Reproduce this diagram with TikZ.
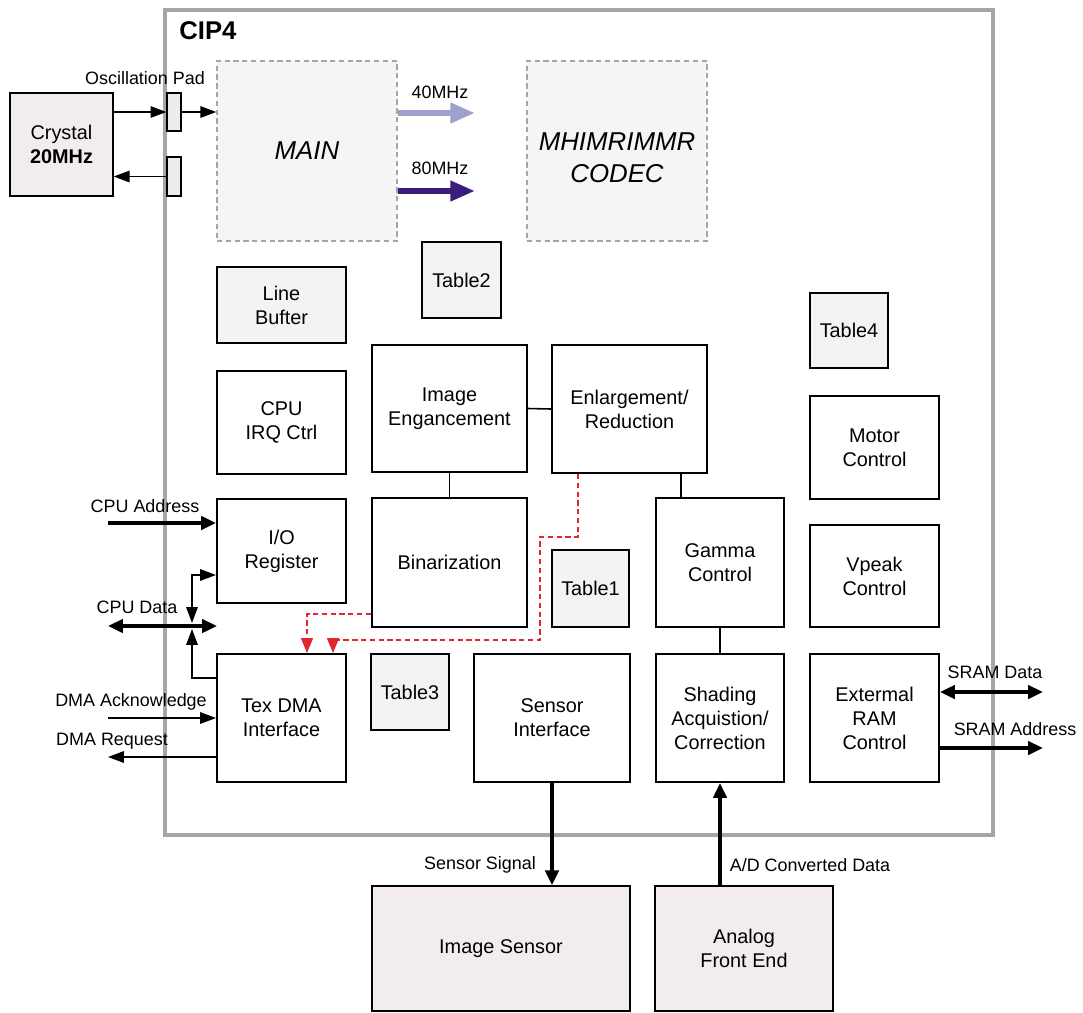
\documentclass[tikz,border=0pt]{standalone}
\usepackage{fontspec}
\setmainfont{Liberation Sans}
\usetikzlibrary{arrows.meta}
\definecolor{framegray}{RGB}{166,166,166}
\definecolor{pinkfill}{RGB}{243,236,238}
\definecolor{tblfill}{RGB}{243,243,245}
\definecolor{dashfill}{RGB}{245,245,245}
\definecolor{dashgray}{RGB}{165,165,165}
\definecolor{padfill}{RGB}{236,236,236}
\definecolor{lav}{RGB}{160,160,204}
\definecolor{deeppurple}{RGB}{59,28,126}
\definecolor{sigred}{RGB}{226,40,46}
\begin{document}
\begin{tikzpicture}[x=0.02cm,y=-0.02cm,
  span/.style n args={4}{at={({(#1+#3)/2},{(#2+#4)/2})},minimum width={(#3-#1)*0.02cm},minimum height={(#4-#2)*0.02cm}},
  blk/.style={draw=black,line width=1.1pt,fill=white,inner sep=0pt,align=center,font=\fontsize{11.3}{13.6}\selectfont},
  tbl/.style={blk,fill=tblfill},
  ext/.style={blk,line width=0.8pt,fill=pinkfill},
  dbox/.style={draw=dashgray,dash pattern=on 3pt off 2pt,line width=0.8pt,fill=dashfill,inner sep=0pt,align=center,font=\fontsize{14.7}{18}\selectfont\itshape},
  ital/.style={inner sep=0pt,align=center,font=\fontsize{14.7}{18}\selectfont\itshape},
  pad/.style={draw=black,line width=0.7pt,fill=padfill,inner sep=0pt},
  lbl/.style={inner sep=0pt,font=\fontsize{10.2}{12}\selectfont},
  conn/.style={line width=0.9pt},
  thinar/.style={line width=0.85pt,-{Triangle[length=9pt,width=6.5pt]}},
  thinboth/.style={line width=0.85pt,{Triangle[length=9pt,width=6.5pt]}-{Triangle[length=9pt,width=6.5pt]}},
  thickar/.style={line width=2.6pt,-{Triangle[length=8.5pt,width=7.5pt]}},
  thickboth/.style={line width=2.6pt,{Triangle[length=8.5pt,width=7.5pt]}-{Triangle[length=8.5pt,width=7.5pt]}},
  freq/.style={line width=3.4pt,-{Triangle[length=14pt,width=11pt]}},
  redar/.style={draw=sigred,line width=0.9pt,dash pattern=on 3pt off 2pt,-{Triangle[length=8.5pt,width=6.8pt]}}
]
\useasboundingbox (0,0) rectangle (1083,1012);

% chip frame
\node[draw=framegray,line width=2.6pt,inner sep=0pt,span={165}{10}{993}{835}] (cip) {};
\node[anchor=west,inner sep=0pt,font=\bfseries\fontsize{14.6}{16}\selectfont] (ciplbl) at (179,31) {CIP4};

% crystal and pads
\node[ext,span={10}{93}{113}{196}] (crystal) {Crystal\\\textbf{20MHz}};
\node[pad,span={167}{93}{181}{131}] (pad1) {};
\node[pad,span={167}{157}{181}{196}] (pad2) {};
\node[lbl] (padlbl) at (145,78) {Oscillation Pad};

% dashed blocks
\node[dbox,span={217}{61}{397}{241}] (main) {MAIN};
\node[dbox,span={527}{61}{707}{241}] (codec) {};
\node[ital] (codectxt) at (617,158) {MHIMRIMMR\\CODEC};

% blocks
\node[tbl,span={422}{242}{501}{318}] (t2) {Table2};
\node[tbl,span={217}{267}{346}{343}] (lbuf) {Line\\Bufter};
\node[tbl,span={810}{293}{888}{368}] (t4) {Table4};
\node[blk,span={217}{371}{346}{474}] (irq) {CPU\\IRQ Ctrl};
\node[blk,span={372}{345}{527}{472}] (ie) {Image\\Engancement};
\node[blk,span={552}{345}{707}{473}] (enl) {Enlargement/\\Reduction};
\node[blk,span={810}{396}{939}{499}] (motor) {Motor\\Control};
\node[blk,span={217}{499}{346}{603}] (io) {I/O\\Register};
\node[blk,span={372}{498}{527}{627}] (bin) {Binarization};
\node[tbl,span={552}{550}{629}{627}] (t1) {Table1};
\node[blk,span={656}{498}{784}{627}] (gamma) {Gamma\\Control};
\node[blk,span={810}{525}{939}{627}] (vpeak) {Vpeak\\Control};
\node[blk,span={217}{654}{346}{782}] (dma) {Tex DMA\\Interface};
\node[tbl,span={371}{654}{449}{730}] (t3) {Table3};
\node[blk,span={474}{654}{630}{782}] (sif) {Sensor\\Interface};
\node[blk,span={656}{654}{784}{782}] (shd) {Shading\\Acquistion/\\Correction};
\node[blk,span={810}{654}{939}{782}] (eram) {Extermal\\RAM\\Control};
\node[ext,span={372}{886}{630}{1011}] (isens) {Image Sensor};
\node[ext,span={655}{886}{833}{1011}] (afe) {Analog\\Front End};

% helper coordinates
\coordinate (f40) at (475,113);
\coordinate (f80) at (475,191);
\coordinate (ca) at (108,523);
\coordinate (cdl) at (108,626);
\coordinate (cdr) at (217,626);
\coordinate (jt) at (192,623);
\coordinate (jb) at (192,629);
\coordinate (ioy) at (0,575);
\coordinate (dmay) at (0,678);
\coordinate (dack) at (108,718);
\coordinate (dreq) at (108,757);
\coordinate (sd) at (1043,692);
\coordinate (sa) at (1043,748);
\coordinate (gx) at (681,0);
\coordinate (r1a) at (0,614);
\coordinate (r1b) at (307,0);
\coordinate (r2x) at (578,0);
\coordinate (r2a) at (540,537);
\coordinate (r2b) at (540,640);
\coordinate (r2c) at (333,640);

% oscillator connections
\draw[thinar] (crystal.east |- pad1) -- (pad1.west);
\draw[thinar] (pad1.east) -- (main.west |- pad1);
\draw[thinar] (pad2.west) -- (crystal.east |- pad2);

% clocks
\draw[freq,lav] (main.east |- f40) -- (f40);
\draw[freq,deeppurple] (main.east |- f80) -- (f80);
\node[lbl] (l40) at (440,92) {40MHz};
\node[lbl] (l80) at (440,168) {80MHz};

% internal links
\draw[conn] (ie.east) -- (enl.west);
\draw[conn] (ie.south) -- (bin.north);
\draw[conn] (enl.south -| gx) -- (gamma.north -| gx);
\draw[conn] (gamma.south) -- (shd.north);

% CPU side
\draw[thickar] (ca) -- (io.west |- ca);
\node[lbl] (lca) at (145,506) {CPU Address};
\draw[thickboth] (cdl) -- (cdr);
\node[lbl] (lcd) at (137,607) {CPU Data};
\draw[thinboth] (jt) |- (io.west |- ioy);
\draw[thinar] (dma.west |- dmay) -| (jb);
\draw[thinar] (dack) -- (dma.west |- dack);
\node[lbl] (lack) at (131,702) {DMA Acknowledge};
\draw[thinar] (dma.west |- dreq) -- (dreq);
\node[lbl] (lreq) at (112,741) {DMA Request};

% red dashed DMA paths
\draw[redar] (bin.west |- r1a) -| (dma.north -| r1b);
\draw[redar] (enl.south -| r2x) |- (r2a) -- (r2b) -- (r2c) -- (dma.north -| r2c);

% SRAM
\draw[thickboth] (eram.east |- sd) -- (sd);
\node[lbl] (lsd) at (995,672) {SRAM Data};
\draw[thickar] (eram.east |- sa) -- (sa);
\node[lbl] (lsa) at (1015,729) {SRAM Address};

% sensor / AFE
\draw[thickar] (sif.south) -- (sif.south |- isens.north);
\node[lbl] (lss) at (480,865) {Sensor Signal};
\draw[thickar] (shd.south |- afe.north) -- (shd.south);
\node[lbl] (lad) at (810,865) {A/D Converted Data};
\end{tikzpicture}
\end{document}
